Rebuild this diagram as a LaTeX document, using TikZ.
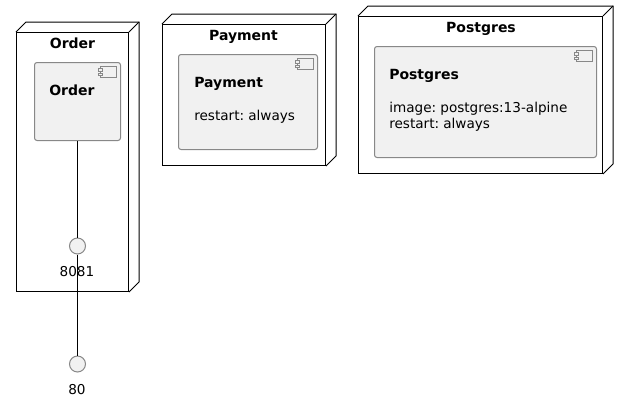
\documentclass[tikz,border=0pt]{standalone}
\usepackage{fontspec}
\setmainfont{DejaVu Sans}
\newcommand{\bodyfont}{\fontsize{10.2pt}{12pt}\selectfont\spaceskip 0.2em\relax}
\tikzset{
  hostbox/.style={draw=black, line width=0.75pt, fill=white, inner sep=0pt},
  servicebox/.style={draw=boxgray, line width=0.75pt, fill=boxfill, rounded corners=1.9pt, inner sep=0pt},
  portdot/.style={circle, draw=boxgray, line width=0.75pt, fill=boxfill, minimum size=12pt, inner sep=0pt},
  title/.style={font=\fontsize{10.5pt}{12pt}\selectfont\bfseries, inner sep=0pt, anchor=base},
  body/.style={inner sep=0pt, align=left, anchor=base west},
  link/.style={draw=black, line width=0.75pt}
}
\definecolor{boxgray}{HTML}{888888}
\definecolor{boxfill}{HTML}{F1F1F1}
% the slanted top and side of a host box
\newcommand{\hostdepth}[1]{
  \draw [line width=0.75pt] (#1.north west) -- ++(10,-10) -| ([shift={(7.5pt,7.5pt)}]#1.south east) -- (#1.south east);
  \draw [line width=0.75pt] (#1.north east) -- ++(10,-10);
}
% the small component sign in the corner
\newcommand{\servicesign}[1]{
  \draw [boxgray, line width=0.6pt] ([shift={(-15.4pt,-3.6pt)}]#1.north east) rectangle ([shift={(-3.6pt,-11.4pt)}]#1.north east);
  \draw [boxgray, line width=0.6pt, fill=boxfill] ([shift={(-16.6pt,-5pt)}]#1.north east) rectangle ([shift={(-13.6pt,-7pt)}]#1.north east);
  \draw [boxgray, line width=0.6pt, fill=boxfill] ([shift={(-16.6pt,-8.4pt)}]#1.north east) rectangle ([shift={(-13.6pt,-10.4pt)}]#1.north east);
}
\begin{document}
\begin{tikzpicture}[x=0.75pt, y=-0.75pt]
  \useasboundingbox (0,0) rectangle (628,401);

  \node [hostbox, minimum width=84pt, minimum height=194.25pt] (orderhost) at (72.5,162) {};
  \hostdepth{orderhost}
  \node [title] (ordertitle) at (72.5,48) {Order};
  \node [servicebox, minimum width=64.5pt, minimum height=58.5pt] (order) at (77.5,101.5) {};
  \servicesign{order}
  \node [title, anchor=base west] (ordername) at (49,95) {Order};

  \node [hostbox, minimum width=122.25pt, minimum height=105.75pt] (paymenthost) at (244,95) {};
  \hostdepth{paymenthost}
  \node [title] (paymenttitle) at (243.5,40) {Payment};
  \node [servicebox, minimum width=104.25pt, minimum height=71.25pt] (payment) at (248,102) {};
  \servicesign{payment}
  \node [title, anchor=base west] (paymentname) at (194,87) {Payment};
  \node [body] (paymentinfo) at (194,120) {\bodyfont restart: always};

  \node [hostbox, minimum width=183pt, minimum height=117.75pt] (postgreshost) at (480.5,95) {};
  \hostdepth{postgreshost}
  \node [title] (postgrestitle) at (481,32) {Postgres};
  \node [servicebox, minimum width=166.5pt, minimum height=83.25pt] (postgres) at (485.5,102) {};
  \servicesign{postgres}
  \node [title, anchor=base west] (postgresname) at (389,79) {Postgres};
  \node [body] (postgresinfo) at (389,128) {\bodyfont image: postgres:13-alpine\\\bodyfont restart: always};

  \node [portdot] (inner) at (77.5,246) {};
  \node [body, anchor=base] (innerlabel) at (77,276) {\bodyfont 8081};
  \node [portdot] (outer) at (77.5,364) {};
  \node [body, anchor=base] (outerlabel) at (77,394) {\bodyfont 80};

  \draw [link] (order) -- (inner);
  \draw [link] (inner) -- (outer);
\end{tikzpicture}
\end{document}
